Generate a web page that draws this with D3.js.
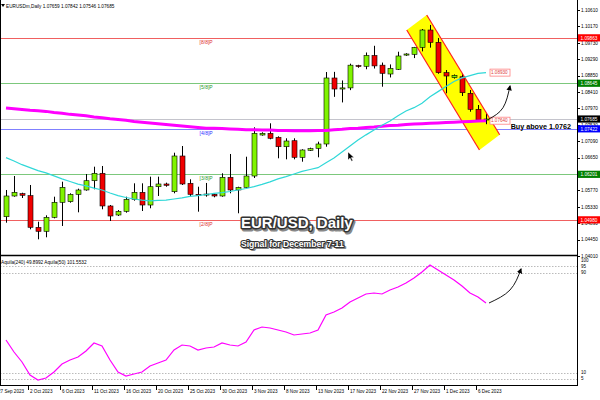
<!DOCTYPE html>
<html><head><meta charset="utf-8">
<script src="https://cdn.jsdelivr.net/npm/d3@7"></script>
<style>html,body{margin:0;padding:0;background:#fff;} svg{display:block;font-family:"Liberation Sans",Arial,sans-serif;}</style>
</head><body><svg id="c" width="600" height="400"></svg>
<script>
// ---------- DATA ----------
const dates = ["28 Sep 2023","29 Sep 2023","1 Oct 2023","2 Oct 2023","3 Oct 2023","4 Oct 2023","5 Oct 2023","6 Oct 2023","8 Oct 2023","9 Oct 2023","10 Oct 2023","11 Oct 2023","12 Oct 2023","13 Oct 2023","15 Oct 2023","16 Oct 2023","17 Oct 2023","18 Oct 2023","19 Oct 2023","20 Oct 2023","22 Oct 2023","23 Oct 2023","24 Oct 2023","25 Oct 2023","26 Oct 2023","27 Oct 2023","29 Oct 2023","30 Oct 2023","31 Oct 2023","1 Nov 2023","2 Nov 2023","3 Nov 2023","5 Nov 2023","6 Nov 2023","7 Nov 2023","8 Nov 2023","9 Nov 2023","10 Nov 2023","12 Nov 2023","13 Nov 2023","14 Nov 2023","15 Nov 2023","16 Nov 2023","17 Nov 2023","19 Nov 2023","20 Nov 2023","21 Nov 2023","22 Nov 2023","23 Nov 2023","24 Nov 2023","26 Nov 2023","27 Nov 2023","28 Nov 2023","29 Nov 2023","30 Nov 2023","1 Dec 2023","3 Dec 2023","4 Dec 2023","5 Dec 2023","6 Dec 2023","7 Dec 2023"];
const open  = [1.05064,1.05620,1.05682,1.05628,1.04780,1.04673,1.05048,1.05451,1.05467,1.05665,1.05781,1.06030,1.06229,1.05352,1.05110,1.05209,1.05531,1.05719,1.05378,1.05869,1.05942,1.05735,1.06693,1.05960,1.05665,1.05665,1.05665,1.05620,1.06121,1.05781,1.05853,1.06156,1.07256,1.07302,1.07195,1.06942,1.07103,1.06658,1.06846,1.06899,1.07015,1.08786,1.08490,1.08520,1.09120,1.09100,1.09390,1.09130,1.08893,1.09019,1.09400,1.09421,1.09609,1.10073,1.09743,1.08928,1.08794,1.08820,1.08375,1.07946,1.07659];
const high  = [1.05781,1.06156,1.05708,1.05915,1.04930,1.05102,1.05601,1.06003,1.05692,1.05816,1.06210,1.06406,1.06425,1.05378,1.05244,1.05601,1.05960,1.05960,1.06138,1.06138,1.05977,1.06781,1.06961,1.06068,1.05869,1.05969,1.05692,1.06229,1.06747,1.05869,1.06674,1.07463,1.07329,1.07570,1.07221,1.07168,1.07168,1.06873,1.06916,1.07077,1.08946,1.08950,1.08720,1.09170,1.09140,1.09470,1.09650,1.09200,1.09150,1.09491,1.09450,1.09620,1.10100,1.10208,1.09860,1.09000,1.08880,1.08912,1.08464,1.08061,1.07842];
const low   = [1.04903,1.05601,1.05566,1.04726,1.04458,1.04512,1.05020,1.04815,1.05440,1.05182,1.05762,1.05800,1.05263,1.04949,1.05083,1.05172,1.05494,1.05217,1.05290,1.05620,1.05869,1.05692,1.05915,1.05601,1.05199,1.05601,1.05585,1.05601,1.05692,1.05156,1.05842,1.06103,1.07238,1.07141,1.06631,1.06604,1.06604,1.06540,1.06827,1.06658,1.06942,1.08280,1.08130,1.08460,1.09060,1.09020,1.09040,1.08552,1.08800,1.09000,1.09380,1.09320,1.09500,1.09600,1.08900,1.08375,1.08770,1.08303,1.07881,1.07613,1.07546];
const close = [1.05620,1.05719,1.05639,1.04780,1.04673,1.05048,1.05451,1.05853,1.05665,1.05781,1.06030,1.06229,1.05352,1.05083,1.05209,1.05531,1.05719,1.05378,1.05869,1.05942,1.05907,1.06693,1.05942,1.05665,1.05660,1.05672,1.05620,1.06121,1.05781,1.05853,1.06156,1.07302,1.07302,1.07168,1.06942,1.07095,1.06658,1.06854,1.06889,1.07015,1.08786,1.08490,1.08520,1.09130,1.09100,1.09390,1.09110,1.08912,1.09046,1.09376,1.09430,1.09609,1.10073,1.09743,1.08928,1.08839,1.08858,1.08391,1.07946,1.07659,1.07685];
// 21-period SMA (cyan)
const smaFast = [1.0665,1.0656,1.0646,1.0638,1.0630,1.0624,1.0616,1.0608,1.0601,1.0594,1.0589,1.0583,1.0578,1.0570,1.0563,1.0558,1.0554,1.0551,1.0549,1.0550,1.0551,1.0554,1.0557,1.0561,1.0563,1.0566,1.0569,1.0571,1.0574,1.0578,1.0582,1.0587,1.0593,1.0600,1.0608,1.0614,1.0621,1.0628,1.0633,1.0638,1.0651,1.0664,1.0680,1.0696,1.0712,1.0726,1.0739,1.0752,1.0763,1.0777,1.0790,1.0799,1.0811,1.0828,1.0842,1.0856,1.0869,1.0879,1.0885,1.0891,1.0893];
// 200-period MA (magenta)
const smaSlow = [1.0798,1.0796,1.0794,1.0792,1.0791,1.0789,1.0786,1.0784,1.0781,1.0779,1.0777,1.0774,1.0772,1.0769,1.0767,1.0765,1.0762,1.0760,1.0758,1.0756,1.0754,1.0752,1.0750,1.0748,1.0746,1.0744,1.0744,1.0743,1.0742,1.0741,1.0740,1.0740,1.0739,1.0739,1.0738,1.0738,1.0737,1.0737,1.0737,1.0738,1.0738,1.0740,1.0741,1.0743,1.0744,1.0746,1.0747,1.0749,1.0751,1.0752,1.0754,1.0755,1.0756,1.0757,1.0758,1.0759,1.0760,1.0761,1.0762,1.0763,1.0764];
// Aquila oscillator
const aquila = [36.0,26.4,18.4,8.0,4.0,5.6,10.4,16.8,20.0,22.4,27.2,33.6,31.2,20.0,10.4,7.2,8.8,10.4,15.2,17.6,20.0,28.0,32.0,31.2,28.0,29.6,30.4,33.6,32.0,31.2,34.4,44.0,46.4,45.6,44.0,42.4,40.0,40.8,41.6,44.0,56.0,58.4,61.6,66.4,69.6,72.8,73.6,72.8,76.0,78.4,81.6,85.6,90.4,96.0,92.0,88.0,84.0,79.2,73.6,70.4,65.6];
const priceTicks = [1.04010,1.04450,1.04890,1.05330,1.05770,1.06210,1.06650,1.07090,1.07530,1.07970,1.08410,1.08850,1.09290,1.09730,1.10170,1.10610];
const xTickIndex = [-1,3,7,11,15,19,23,27,31,35,39,43,47,51,55,59];
const xTickLabels = ["27 Sep 2023","2 Oct 2023","6 Oct 2023","11 Oct 2023","16 Oct 2023","20 Oct 2023","25 Oct 2023","30 Oct 2023","3 Nov 2023","8 Nov 2023","13 Nov 2023","17 Nov 2023","22 Nov 2023","27 Nov 2023","1 Dec 2023","6 Dec 2023"];
const levelNames = ["[8/8]P","[5/8]P","[4/8]P","[3/8]P","[2/8]P"];
const levelValues = [1.09863,1.08645,1.07422,1.06201,1.04980];
const lastPrice = 1.07685;
const indLevels = [95,90,10,5];
const indTicks = [100,95,90,10,5];
const channelIdx = [50.09,52.59,61.71,59.18];
const channelPrice = [1.10073,1.10476,1.07262,1.06854];
const arrowIdx = [60.375,62.125,63.0];
const arrowPrice = [1.07686,1.07988,1.08571];
const arrow2Idx = [60.375,63.0,64.375];
const arrow2Val = [65.6,76.0,92.8];
const cursorAt = [42.75,1.0680];
const buyLevel = 1.0762;

// ---------- SCALES ----------
const svg = d3.select("#c");
const R = 577;
const x = d3.scaleLinear().domain([0,60]).range([6,486]);
const y = d3.scaleLinear().domain([1.0401,1.1061]).range([256,10]);
const yi = d3.scaleLinear().domain([0,100]).range([385,260]);
const f5 = d3.format(".5f");
const levelColor = ["#f06060","#7cc87c","#8080ff","#7cc87c","#f06060"];
const levelText  = ["#e03030","#2a9a2a","#3030ff","#2a9a2a","#e03030"];
const levelBox   = ["#ff0000","#008000","#0000ff","#008000","#ff0000"];

svg.append("rect").attr("width",600).attr("height",400).attr("fill","#fff");
const defs = svg.append("defs");
defs.append("clipPath").attr("id","cp").append("rect").attr("x",0).attr("y",0).attr("width",R).attr("height",254.5);
defs.append("clipPath").attr("id","ci").append("rect").attr("x",0).attr("y",256.5).attr("width",R).attr("height",128.5);
defs.append("marker").attr("id","ah").attr("viewBox","0 0 10 10").attr("refX",8).attr("refY",5)
  .attr("markerWidth",6).attr("markerHeight",6).attr("orient","auto")
  .append("path").attr("d","M0,0L10,5L0,10z").attr("fill","#000");

const gp = svg.append("g").attr("clip-path","url(#cp)");

// level lines
gp.selectAll("line.lvl").data(levelValues).join("line")
  .attr("x1",0).attr("x2",R).attr("y1",d=>Math.round(y(d))+0.5).attr("y2",d=>Math.round(y(d))+0.5)
  .attr("stroke",(d,i)=>levelColor[i]).attr("stroke-width",1);
gp.append("line").attr("x1",0).attr("x2",R).attr("y1",Math.round(y(lastPrice))+0.5).attr("y2",Math.round(y(lastPrice))+0.5)
  .attr("stroke","#c4c4cc").attr("stroke-width",1);
gp.selectAll("text.lvl").data(levelValues).join("text")
  .attr("x",x(24.2)).attr("y",d=>y(d)+6).attr("font-size",5).attr("fill",(d,i)=>levelText[i]).text((d,i)=>levelNames[i]);

// channel
const chPts = channelIdx.map((d,i)=>[x(d),y(channelPrice[i])]);
gp.append("polygon").attr("points",chPts.map(p=>p.join(",")).join(" ")).attr("fill","#ffff00");

// candles
const idx = d3.range(dates.length);
const cg = gp.append("g");
cg.selectAll("line.w").data(idx).join("line")
  .attr("x1",i=>Math.round(x(i))+0.5).attr("x2",i=>Math.round(x(i))+0.5)
  .attr("y1",i=>y(high[i])).attr("y2",i=>y(low[i])).attr("stroke","#000").attr("stroke-width",1);
cg.selectAll("rect.b").data(idx).join("rect")
  .attr("x",i=>Math.round(x(i))-2).attr("width",5)
  .attr("y",i=>y(Math.max(open[i],close[i])))
  .attr("height",i=>Math.max(1,Math.abs(y(open[i])-y(close[i]))))
  .attr("fill",i=>close[i]>=open[i]?"#80f400":"#f00000")
  .attr("stroke","#000").attr("stroke-width",0.6);

// channel edges
gp.append("line").attr("x1",chPts[0][0]).attr("y1",chPts[0][1]).attr("x2",chPts[3][0]).attr("y2",chPts[3][1]).attr("stroke","#ff2020").attr("stroke-width",1.2);
gp.append("line").attr("x1",chPts[1][0]).attr("y1",chPts[1][1]).attr("x2",chPts[2][0]).attr("y2",chPts[2][1]).attr("stroke","#ff2020").attr("stroke-width",1.2);

// MAs
const lineP = arr => d3.line().x((d,i)=>x(i)).y(d=>y(d))(arr);
gp.append("path").attr("d",lineP(smaSlow)).attr("fill","none").attr("stroke","#ff00ff").attr("stroke-width",3);
gp.append("path").attr("d",lineP(smaFast)).attr("fill","none").attr("stroke","#30d8d8").attr("stroke-width",1.2);

// MA value boxes
[smaFast[60], smaSlow[60]].forEach(v=>{
  const yy = y(v);
  gp.append("rect").attr("x",x(60)+4).attr("y",yy-3.5).attr("width",20).attr("height",7).attr("fill","#fff").attr("stroke","#ff8080").attr("stroke-width",0.8);
  gp.append("text").attr("x",x(60)+5).attr("y",yy+1.7).attr("font-size",4.6).attr("fill","#e04040").text(f5(v));
});

// arrow 1
svg.append("path").attr("d",d3.line().curve(d3.curveNatural).x(d=>x(d)).y((d,i)=>y(arrowPrice[i]))(arrowIdx))
  .attr("fill","none").attr("stroke","#000").attr("stroke-width",0.9).attr("marker-end","url(#ah)");

// cursor
const cx = x(cursorAt[0]), cy = y(cursorAt[1]);
svg.append("path").attr("d",`M${cx},${cy}l0,8l2,-2l1.6,3.2l1.2,-0.6l-1.6,-3l2.8,0z`).attr("fill","#000").attr("stroke","#fff").attr("stroke-width",0.4);

// Buy text
svg.append("text").attr("x",571).attr("y",y(buyLevel)+7.8).attr("text-anchor","end").attr("font-size",7.2).attr("font-weight","bold").attr("fill","#000").text("Buy above " + buyLevel.toFixed(4));

// Titles (shadow + outlined white text)
const titles = [{t:"EUR/USD, Daily", x:241, y:228, s:15, w:3},{t:"Signal for December 7-11", x:241, y:246.5, s:8.6, w:2.2}];
const sh = svg.append("g").attr("font-weight","bold").attr("fill","#888").attr("stroke","#888").attr("stroke-linejoin","round");
titles.forEach(d=>sh.append("text").attr("x",d.x+1.5).attr("y",d.y+1.5).attr("font-size",d.s).attr("stroke-width",d.w).text(d.t));
const tt = svg.append("g").attr("font-weight","bold").attr("fill","#fff").attr("stroke","#333").attr("stroke-linejoin","round").attr("paint-order","stroke");
titles.forEach(d=>tt.append("text").attr("x",d.x).attr("y",d.y).attr("font-size",d.s).attr("stroke-width",d.w).text(d.t));

// header
svg.append("path").attr("d","M1,4L5,4L3,7z").attr("fill","#000");
svg.append("text").attr("x",6).attr("y",8).attr("font-size",4.7).attr("fill","#000")
  .text(`EURUSDm,Daily  ${f5(open[60])} ${f5(high[60])} ${f5(low[60])} ${f5(close[60])}`);

// ---------- INDICATOR ----------
const gi = svg.append("g").attr("clip-path","url(#ci)");
gi.selectAll("line.il").data(indLevels).join("line")
  .attr("x1",0).attr("x2",R).attr("y1",d=>Math.round(yi(d))+0.5).attr("y2",d=>Math.round(yi(d))+0.5)
  .attr("stroke","#aaa").attr("stroke-width",0.8).attr("stroke-dasharray","1.5,1.5");
gi.append("path").attr("d",d3.line().x((d,i)=>x(i)).y(d=>yi(d))(aquila)).attr("fill","none").attr("stroke","#ff00ff").attr("stroke-width",1.2);
svg.append("path").attr("d",d3.line().curve(d3.curveNatural).x(d=>x(d)).y((d,i)=>yi(arrow2Val[i]))(arrow2Idx))
  .attr("fill","none").attr("stroke","#000").attr("stroke-width",0.9).attr("marker-end","url(#ah)");
svg.append("text").attr("x",1).attr("y",264).attr("font-size",4.7).attr("fill","#000").text("Aquila(240) 49.8992  Aquila(50) 101.5532");

// ---------- FRAMES & AXES ----------
svg.append("line").attr("x1",0.5).attr("x2",0.5).attr("y1",0).attr("y2",386).attr("stroke","#000");
svg.append("line").attr("x1",R+0.5).attr("x2",R+0.5).attr("y1",0).attr("y2",386).attr("stroke","#000");
svg.append("line").attr("x1",0).attr("x2",R).attr("y1",255.5).attr("y2",255.5).attr("stroke","#000").attr("stroke-width",1.5);
svg.append("line").attr("x1",0).attr("x2",R+1).attr("y1",385.5).attr("y2",385.5).attr("stroke","#000");

// price axis
const pa = svg.append("g");
pa.selectAll("line").data(priceTicks).join("line").attr("x1",R).attr("x2",R+3).attr("y1",d=>Math.round(y(d))+0.5).attr("y2",d=>Math.round(y(d))+0.5).attr("stroke","#000");
pa.selectAll("text").data(priceTicks).join("text").attr("x",581).attr("y",d=>y(d)+1.7).attr("font-size",4.7).attr("fill","#000").text(d=>f5(d));
// price boxes
const boxes = levelValues.map((v,i)=>({v, c:levelBox[i]})).concat([{v:lastPrice,c:"#000"}]);
boxes.forEach(b=>{
  svg.append("rect").attr("x",578).attr("y",y(b.v)-3.6).attr("width",22).attr("height",7.2).attr("fill",b.c);
  svg.append("text").attr("x",580.5).attr("y",y(b.v)+1.7).attr("font-size",4.7).attr("fill","#fff").text(f5(b.v));
});
// indicator axis
svg.selectAll("text.it").data(indTicks).join("text").attr("x",581).attr("y",d=>yi(d)+1.7).attr("font-size",4.5).attr("fill","#000").text(d=>d);

// time axis
const ta = svg.append("g");
ta.selectAll("line").data(xTickIndex).join("line").attr("x1",d=>Math.round(x(d))-1.5).attr("x2",d=>Math.round(x(d))-1.5).attr("y1",386).attr("y2",390).attr("stroke","#000");
ta.selectAll("text").data(xTickIndex).join("text").attr("x",d=>x(d)).attr("y",393).attr("font-size",4.6).attr("fill","#000").text((d,i)=>xTickLabels[i]);
</script></body></html>
